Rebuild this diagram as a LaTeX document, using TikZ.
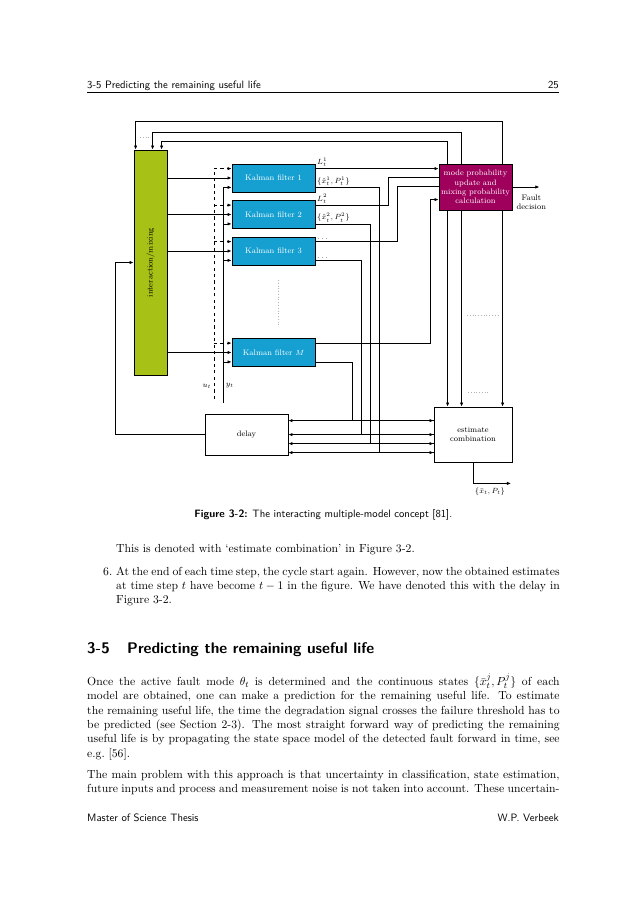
\documentclass[tikz,border=0pt]{standalone}
\usetikzlibrary{arrows.meta,calc}

\definecolor{mixgreen}{RGB}{168,193,22}
\definecolor{kfblue}{RGB}{22,160,209}
\definecolor{modered}{RGB}{158,0,92}

\def\pu{0.32915mm}
\newcommand\bodyfont{\fontsize{10.95}{13.6}\selectfont}
\newcommand\figfont{\fontsize{7.5}{8.6}\selectfont}
\newcommand\sansfont{\fontsize{10}{12}\selectfont\sffamily}
\newcommand\fullline[1]{\hbox to 155.5mm{#1}}
\newcommand\itemline[1]{\hbox to 146mm{#1}}

\tikzset{
  wire/.style={line width=0.75pt},
  arr/.style={wire, -{Latex[length=3.8pt,width=3.2pt]}},
  box/.style={draw, line width=0.75pt, inner sep=0pt, align=center, font=\figfont},
  kalman/.style={box, fill=kfblue, text=white, minimum width=83*\pu, minimum height=28*\pu},
  lbl/.style={font=\figfont, inner sep=1.5pt},
  dotline/.style={gray!60, dotted, line width=0.6pt},
  txt/.style={anchor=base west, inner sep=0pt, font=\bodyfont},
  sans/.style={anchor=base west, inner sep=0pt, font=\sansfont},
}

\begin{document}
\begin{tikzpicture}[x=\pu, y=-\pu]
  \fill[white] (0,0) rectangle (638,903);
  \useasboundingbox (0,0) rectangle (638,903);

  % page head
  \node[sans] (head) at (87,88) {3-5 Predicting the remaining useful life};
  \node[sans, anchor=base east] (page) at (559,88) {25};
  \draw[line width=0.6pt] (87,92) -- (559,92);

  % blocks
  \node[box, fill=mixgreen, minimum width=33*\pu, minimum height=225*\pu] (mix) at (150.5,262.5) {};
  \node[font=\figfont, rotate=90] (mixlab) at (mix) {interaction/mixing};
  \node[kalman] (kf1) at (273.5,178) {Kalman filter 1};
  \node[kalman] (kf2) at (273.5,214.5) {Kalman filter 2};
  \node[kalman] (kf3) at (273.5,251) {Kalman filter 3};
  \node[kalman] (kfM) at (273.5,352.5) {Kalman filter $M$};
  \node[box, fill=modered, text=white, minimum width=73*\pu, minimum height=46*\pu] (mode) at (475.5,187)
    {mode probability\\update and\\mixing probability\\calculation};
  \node[box, minimum width=78*\pu, minimum height=55*\pu] (est) at (473,434.5) {estimate\\combination};
  \node[box, minimum width=83*\pu, minimum height=41*\pu] (delay) at (246.5,434.5) {delay};

  % ports of the filters
  \foreach \k in {1,2,3,M} {
    \coordinate (kf\k-u) at ($(kf\k.north west)+(0,5)$);
    \coordinate (kf\k-y) at ($(kf\k.south west)+(0,-5)$);
    \coordinate (kf\k-L) at ($(kf\k.north east)+(0,5)$);
    \coordinate (kf\k-s) at ($(kf\k.south east)+(0,-5)$);
  }

  % inputs u_t and y_t
  \coordinate (ubot) at (214,399);
  \coordinate (ybot) at (223,403);
  \draw[wire, dashed] (ubot) -- (ubot |- kf1-u);
  \draw[wire] (ybot) -- (ybot |- kf1-y);
  \foreach \k in {1,2,3,M} {
    \draw[arr, dashed] (ubot |- kf\k-u) -- (kf\k-u);
    \draw[arr] (ybot |- kf\k-y) -- (kf\k-y);
    \draw[arr] (mix.east |- kf\k) -- (kf\k.west);
  }
  \node[lbl, anchor=east] (ulab) at ($(ubot)+(-1,-13)$) {$u_t$};
  \node[lbl, anchor=west] (ylab) at ($(ybot)+(1,-17)$) {$y_t$};

  % likelihoods to mode probability
  \coordinate (min2) at ($(mode.north west)+(0,14)$);
  \coordinate (min3) at ($(mode.north west)+(0,23)$);
  \coordinate (min4) at ($(mode.north west)+(0,36)$);
  \draw[arr] (kf1-L) -- (mode.west |- kf1-L);
  \draw[wire] (kf2-L) -- ++(73,0) |- (min2);
  \draw[wire] (kf3-L) -- ++(82,0) |- (min3);
  \draw[arr] (kfM-L) -- ++(115,0) |- (min4);

  \node[lbl, anchor=south west] (lab1L) at (kf1-L) {$L_t^1$};
  \node[lbl, anchor=south west] (lab1s) at (kf1-s) {$\{\hat{x}_t^1,P_t^1\}$};
  \node[lbl, anchor=south west] (lab2L) at (kf2-L) {$L_t^2$};
  \node[lbl, anchor=south west] (lab2s) at (kf2-s) {$\{\hat{x}_t^2,P_t^2\}$};
  \node[lbl, anchor=south west] (lab3L) at (kf3-L) {$\dots$};
  \node[lbl, anchor=south west] (lab3s) at (kf3-s) {$\dots$};

  % state estimates to combination and delay
  \coordinate (bus4) at ($(est.north west)+(0,14)$);
  \coordinate (bus3) at ($(est.north west)+(0,28)$);
  \coordinate (bus2) at ($(est.north west)+(0,37)$);
  \coordinate (bus1) at ($(est.north west)+(0,46)$);
  \draw[arr] (kfM-s) -- ++(37,0) |- (bus4);
  \draw[arr] (kf3-s) -- ++(46,0) |- (bus3);
  \draw[arr] (kf2-s) -- ++(55,0) |- (bus2);
  \draw[arr] (kf1-s) -- ++(64,0) |- (bus1);
  \foreach \b in {1,...,4}
    \draw[arr] (bus\b) -- (delay.east |- bus\b);
  \draw[arr] (delay.west) -- ++(-89,0) |- (mix.west);

  % mixing and mode probabilities
  \foreach \a/\b/\h in {9/28/22, 23/19/31, 64/2/42} {
    \draw[arr] ($(mode.north west)+(\a,0)$) -- ++(0,-\h) -| ($(mix.north west)+(\b,0)$);
    \coordinate (mb) at ($(mode.south west)+(\a,0)$);
    \draw[arr] (mb) -- (mb |- est.north);
  }

  % outputs
  \coordinate (fd) at ($(mode.east)+(27,0)$);
  \draw[arr] (mode.east) -- (fd);
  \node[lbl, align=center] (fault) at ($(fd)+(-8,15)$) {Fault\\decision};
  \coordinate (eout) at ($(est.south)+(38,21)$);
  \draw[arr] (est.south) |- (eout);
  \node[lbl, anchor=north] (xhat) at ($(eout)+(-21,3)$) {$\{\bar{x}_t,P_t\}$};

  % dots for the omitted models
  \draw[dotline] (140,137) -- (150,137);
  \draw[dotline] (278,280) -- (278,326);
  \draw[dotline] (467,315) -- (498,315);
  \draw[dotline] (468,392) -- (488,392);

  % caption and text
  \node[sans, anchor=base] (cap) at (323.3,517) {\textbf{Figure 3-2:} The interacting multiple-model concept [81].};
  \node[txt] (t1) at (116,552) {This is denoted with ‘estimate combination’ in Figure 3-2.};
  \node[txt] (t2n) at (103,575) {6.};
  \node[txt] (t2) at (116,575) {\itemline{At the end of each time step, the cycle start again. However, now the obtained estimates}};
  \node[txt] (t3) at (116,589.3) {\itemline{at time step $t$ have become $t-1$ in the figure. We have denoted this with the delay in}};
  \node[txt] (t4) at (116,603.6) {Figure 3-2.};

  \node[sans, font=\fontsize{14.4}{18}\selectfont\sffamily\bfseries] (secnum) at (87,653) {3-5};
  \node[sans, font=\fontsize{14.4}{18}\selectfont\sffamily\bfseries] (sectitle) at (127,653) {Predicting the remaining useful life};

  \node[txt] (p1) at (87,685.5) {\fullline{Once the active fault mode $\theta_t$ is determined and the continuous states $\{\bar{x}_t^j,P_t^j\}$ of each}};
  \node[txt] (p2) at (87,699.8) {\fullline{model are obtained, one can make a prediction for the remaining useful life. To estimate}};
  \node[txt] (p3) at (87,714.1) {\fullline{the remaining useful life, the time the degradation signal crosses the failure threshold has to}};
  \node[txt] (p4) at (87,728.4) {\fullline{be predicted (see Section 2-3). The most straight forward way of predicting the remaining}};
  \node[txt] (p5) at (87,742.7) {\fullline{useful life is by propagating the state space model of the detected fault forward in time, see}};
  \node[txt] (p6) at (87,757) {e.g.\ [56].};
  \node[txt] (q1) at (87,778.5) {\fullline{The main problem with this approach is that uncertainty in classification, state estimation,}};
  \node[txt] (q2) at (87,792.8) {\fullline{future inputs and process and measurement noise is not taken into account. These uncertain-}};

  % page foot
  \node[sans] (foot) at (87,821) {Master of Science Thesis};
  \node[sans, anchor=base east] (author) at (559,821) {W.P. Verbeek};
\end{tikzpicture}
\end{document}
